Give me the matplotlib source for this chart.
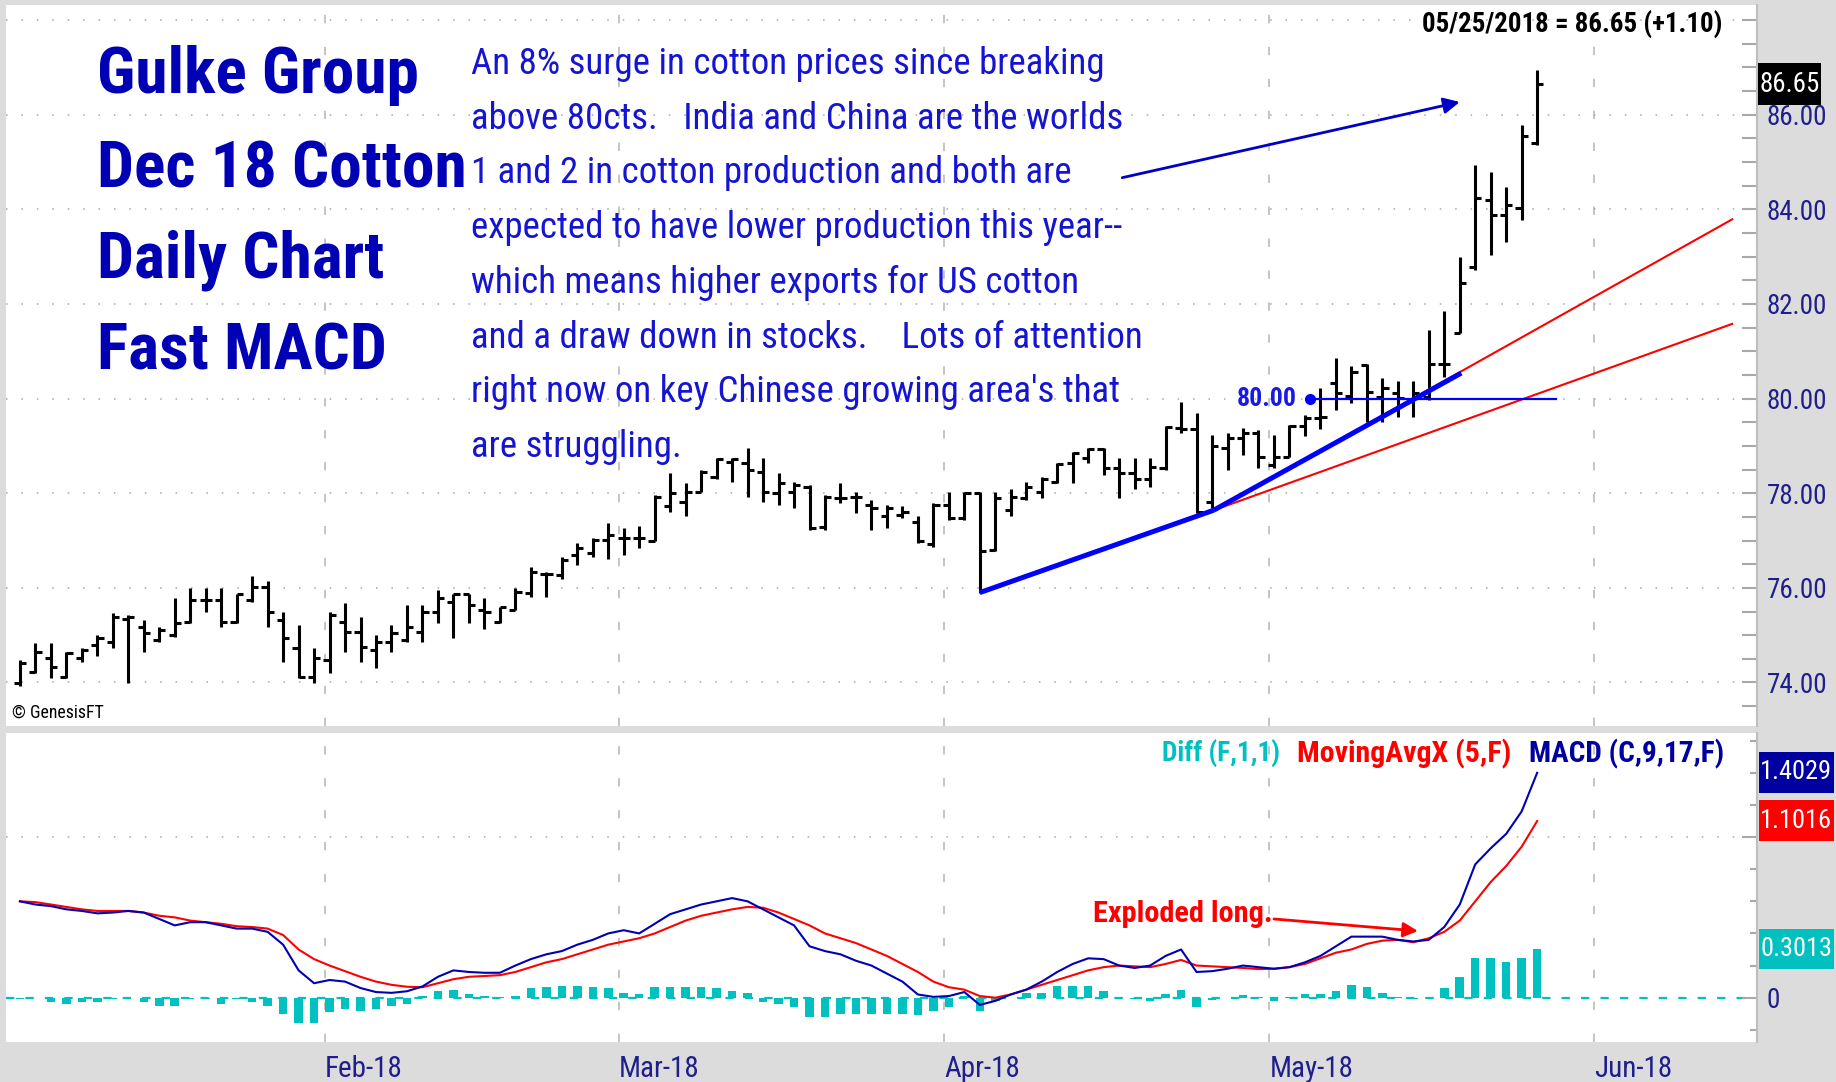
import matplotlib
matplotlib.use("Agg")
import matplotlib.pyplot as plt
from matplotlib import font_manager as fm
from matplotlib.patches import Rectangle
from matplotlib.ticker import MultipleLocator
import numpy as np

W, H = 1836, 1082
plt.rcParams["lines.scale_dashes"] = False

have = {f.name for f in fm.fontManager.ttflist}
FONT = next((f for f in ["Liberation Sans Narrow", "Roboto Condensed", "Liberation Sans"]
             if f in have), "DejaVu Sans")
plt.rcParams["font.family"] = [FONT, "DejaVu Sans"]

# ---- daily OHLC, Dec 18 cotton, Jan 3 .. May 25 2018 (bar index 0..98)
opens = [73.98, 74.23, 74.51, 74.11, 74.51, 74.79, 74.86, 75.35, 75.18, 74.90,
         75.00, 75.28, 75.74, 75.74, 75.28, 75.74, 76.02, 75.32, 74.72, 74.12,
         74.47, 75.28, 75.07, 74.69, 74.86, 74.90, 75.07, 75.50, 75.71, 75.88,
         75.53, 75.28, 75.53, 75.89, 76.29, 76.27, 76.69, 76.73, 77.01, 77.05,
         77.05, 77.00, 77.72, 77.82, 78.03, 78.35, 78.67, 78.63, 78.45, 78.01,
         78.03, 78.14, 77.29, 77.89, 77.93, 77.75, 77.51, 77.54, 77.40, 76.93,
         77.75, 77.47, 78.01, 76.79, 77.65, 77.89, 78.03, 78.24, 78.63, 78.74,
         78.93, 78.53, 78.42, 78.31, 78.53, 79.38, 79.35, 77.82, 78.95, 79.16,
         79.27, 78.60, 78.77, 79.42, 79.60, 80.34, 80.06, 80.71, 80.04, 80.11,
         79.94, 80.04, 80.73, 81.38, 82.79, 84.20, 83.88, 84.02, 85.40]
highs = [74.48, 74.83, 74.83, 74.65, 74.72, 75.00, 75.46, 75.42, 75.32, 75.18,
         75.78, 75.99, 75.99, 75.99, 75.88, 76.25, 76.15, 75.50, 75.21, 74.72,
         75.50, 75.67, 75.39, 75.00, 75.21, 75.64, 75.64, 75.96, 75.88, 75.88,
         75.78, 75.60, 75.99, 76.45, 76.34, 76.66, 76.94, 77.05, 77.37, 77.26,
         77.30, 77.96, 78.42, 78.21, 78.49, 78.74, 78.74, 78.95, 78.74, 78.42,
         78.24, 78.17, 77.96, 78.21, 78.03, 77.86, 77.75, 77.72, 77.51, 77.79,
         78.03, 78.03, 78.03, 78.03, 78.10, 78.24, 78.35, 78.63, 78.88, 78.95,
         78.95, 78.74, 78.74, 78.74, 79.42, 79.92, 79.69, 79.23, 79.27, 79.37,
         79.34, 79.23, 79.44, 79.65, 80.22, 80.85, 80.69, 80.73, 80.43, 80.37,
         80.37, 81.44, 81.86, 83.00, 84.94, 84.80, 84.48, 85.79, 86.94]
lows = [73.93, 74.19, 74.09, 74.09, 74.44, 74.55, 74.72, 73.98, 74.65, 74.86,
        74.97, 75.25, 75.50, 75.18, 75.25, 75.71, 75.18, 74.44, 74.09, 73.98,
        74.19, 74.65, 74.44, 74.30, 74.65, 74.86, 74.86, 75.25, 74.93, 75.25,
        75.14, 75.25, 75.53, 75.81, 75.81, 76.18, 76.48, 76.66, 76.61, 76.69,
        76.84, 76.98, 77.61, 77.51, 78.03, 78.31, 78.24, 77.93, 77.82, 77.75,
        77.68, 77.22, 77.22, 77.79, 77.58, 77.22, 77.26, 77.47, 76.94, 76.87,
        77.44, 77.44, 75.89, 76.77, 77.51, 77.86, 77.89, 78.21, 78.21, 78.63,
        78.39, 77.89, 78.10, 78.14, 78.49, 79.27, 77.58, 77.68, 78.49, 78.81,
        78.53, 78.53, 78.77, 79.20, 79.35, 79.76, 79.90, 79.50, 79.50, 79.62,
        79.62, 79.97, 80.46, 81.38, 82.72, 83.04, 83.30, 83.78, 85.37]
closes = [74.41, 74.65, 74.33, 74.62, 74.69, 74.93, 75.39, 75.39, 75.04, 75.11,
          75.25, 75.74, 75.74, 75.28, 75.87, 76.02, 75.50, 74.93, 74.12, 74.51,
          75.43, 75.07, 74.76, 74.86, 75.04, 75.18, 75.50, 75.78, 75.88, 75.64,
          75.50, 75.60, 75.92, 76.34, 76.29, 76.59, 76.84, 77.01, 77.12, 77.05,
          77.05, 77.93, 78.00, 78.03, 78.45, 78.72, 78.72, 78.49, 78.03, 78.21,
          78.17, 77.26, 77.93, 77.89, 77.91, 77.68, 77.68, 77.61, 76.98, 77.75,
          77.47, 78.01, 76.77, 77.89, 77.93, 78.14, 78.31, 78.62, 78.84, 78.93,
          78.53, 78.42, 78.31, 78.56, 79.39, 79.35, 77.61, 78.99, 79.16, 79.27,
          78.77, 78.77, 79.42, 79.60, 79.62, 80.11, 80.57, 80.15, 80.22, 80.01,
          80.11, 80.73, 80.73, 82.45, 84.23, 83.88, 84.10, 85.55, 86.65]

# ---- Fast MACD panel
macd = [0.60, 0.58, 0.57, 0.55, 0.54, 0.525, 0.53, 0.54, 0.53, 0.49,
        0.45, 0.47, 0.47, 0.45, 0.43, 0.43, 0.41, 0.33, 0.17, 0.09,
        0.11, 0.10, 0.06, 0.035, 0.03, 0.04, 0.07, 0.13, 0.17, 0.16,
        0.155, 0.155, 0.20, 0.24, 0.27, 0.29, 0.33, 0.36, 0.40, 0.42,
        0.40, 0.46, 0.52, 0.55, 0.58, 0.60, 0.62, 0.60, 0.55, 0.50,
        0.45, 0.32, 0.29, 0.27, 0.23, 0.20, 0.15, 0.10, 0.02, 0.005,
        0.01, 0.035, -0.045, -0.02, 0.02, 0.05, 0.10, 0.16, 0.21, 0.245,
        0.24, 0.20, 0.185, 0.20, 0.26, 0.30, 0.16, 0.165, 0.18, 0.20,
        0.19, 0.18, 0.19, 0.22, 0.26, 0.32, 0.38, 0.38, 0.38, 0.36,
        0.35, 0.36, 0.44, 0.58, 0.83, 0.93, 1.02, 1.16, 1.40]
signal = [0.60, 0.595, 0.58, 0.565, 0.55, 0.54, 0.54, 0.54, 0.53, 0.51,
          0.50, 0.48, 0.47, 0.46, 0.445, 0.44, 0.43, 0.39, 0.30, 0.24,
          0.20, 0.165, 0.13, 0.10, 0.08, 0.068, 0.065, 0.09, 0.115, 0.13,
          0.135, 0.14, 0.16, 0.19, 0.22, 0.24, 0.27, 0.30, 0.33, 0.35,
          0.37, 0.40, 0.44, 0.48, 0.51, 0.53, 0.55, 0.565, 0.56, 0.53,
          0.49, 0.45, 0.40, 0.37, 0.34, 0.30, 0.26, 0.21, 0.16, 0.10,
          0.065, 0.05, 0.01, 0.0, 0.02, 0.05, 0.08, 0.11, 0.14, 0.17,
          0.19, 0.20, 0.195, 0.19, 0.21, 0.235, 0.20, 0.195, 0.19, 0.185,
          0.178, 0.18, 0.19, 0.21, 0.245, 0.28, 0.30, 0.335, 0.355, 0.36,
          0.345, 0.37, 0.41, 0.48, 0.60, 0.72, 0.82, 0.94, 1.10]
diff = [-0.01, -0.005, -0.03, -0.04, -0.03, -0.03, -0.01, 0.0, -0.03, -0.05,
        -0.05, -0.01, -0.01, -0.04, -0.01, -0.03, -0.05, -0.10, -0.16, -0.16,
        -0.09, -0.07, -0.08, -0.07, -0.05, -0.04, 0.01, 0.04, 0.05, 0.025,
        0.01, 0.005, 0.01, 0.06, 0.065, 0.07, 0.07, 0.065, 0.06, 0.03,
        0.02, 0.065, 0.065, 0.065, 0.065, 0.06, 0.04, 0.03, -0.03, -0.04,
        -0.06, -0.12, -0.12, -0.10, -0.10, -0.10, -0.10, -0.10, -0.11, -0.08,
        -0.06, 0.01, -0.08, -0.02, 0.0, 0.03, 0.03, 0.07, 0.075, 0.07,
        0.04, 0.005, -0.01, -0.02, 0.02, 0.045, -0.06, -0.015, 0.0, 0.015,
        0.005, -0.02, 0.005, 0.02, 0.02, 0.04, 0.08, 0.065, 0.03, 0.005,
        -0.01, 0.005, 0.06, 0.13, 0.25, 0.25, 0.22, 0.25, 0.30]

month_labels = ["Feb-18", "Mar-18", "Apr-18", "May-18", "Jun-18"]
month_first_bar = [20, 39, 60, 81, 102]
price_ticks = [74, 76, 78, 80, 82, 84, 86, 88]
price_labels = ["74.00", "76.00", "78.00", "80.00", "82.00", "84.00", "86.00", ""]

# drawn studies (bar index, price)
trend1_blue = ([62, 77.1], [75.90, 77.64])
trend1_red = ([77.1, 110.6], [77.64, 81.58])
trend2_blue = ([77.1, 93.1], [77.64, 80.54])
trend2_red = ([77.1, 110.6], [77.64, 83.79])
level_80 = ([83.3, 99.2], [80.0, 80.0])
surge_arrow = ((71.2, 84.67), (93.0, 86.27))
cross_arrow = ((81.0, 0.49), (90.3, 0.415))

last_close, last_change = 86.65, 1.10
last_macd, last_signal, last_diff = 1.4029, 1.1016, 0.3013

title_lines = ["Gulke Group", "Dec 18 Cotton", "Daily Chart", "Fast MACD"]
note_lines = ["An 8% surge in cotton prices since breaking",
              "above 80cts.   India and China are the worlds",
              "1 and 2 in cotton production and both are",
              "expected to have lower production this year--",
              "which means higher exports for US cotton",
              "and a draw down in stocks.    Lots of attention",
              "right now on key Chinese growing area's that",
              "are struggling."]

GREY = "#DCDCDC"
NAVY = "#1E1E8C"
CYAN = "#00C0C0"
BLUE_MACD = "#0000B4"

fig = plt.figure(figsize=(W / 100, H / 100), dpi=100, facecolor=GREY)
renderer = fig.canvas.get_renderer()


def box(x0, y0, x1, y1):
    return [x0 / W, 1 - y1 / H, (x1 - x0) / W, (y1 - y0) / H]


def fitsize(s, width, size=20, **kw):
    t = fig.text(0, 0, s, fontsize=size, **kw)
    w = t.get_window_extent(renderer).width
    t.remove()
    return size * width / w


def put(x, y, s, size, **kw):
    return fig.text(x / W, 1 - y / H, s, fontsize=size, va="baseline", **kw)


ax = fig.add_axes(box(6, 5, 1757, 726), facecolor="white")
ax2 = fig.add_axes(box(6, 733, 1757, 1042), facecolor="white", sharex=ax)

ax.set_xlim(-0.9, 112.2)
ax.set_ylim(73.08, 88.32)
ax2.set_ylim(-0.276, 1.648)

tick_size = fitsize("84.00", 61)
for a in (ax, ax2):
    for side in ("top", "left", "bottom"):
        a.spines[side].set_visible(False)
    a.spines["right"].set_color("#BEBEBE")
    a.spines["right"].set_linewidth(1.5)
    a.yaxis.tick_right()
    a.tick_params(axis="x", bottom=False, labelbottom=False)
    a.tick_params(axis="y", which="both", direction="in", color="#A8A8A8",
                  width=1.5, pad=7, labelsize=tick_size, labelcolor=NAVY)
    for m in month_first_bar:
        a.axvline(m - 0.3, color="#B4B4B4", lw=1.1, dashes=(6, 17), zorder=0)

ax.set_yticks(price_ticks, price_labels)
ax.yaxis.set_minor_locator(MultipleLocator(0.5))
ax.tick_params(axis="y", which="both", length=10.8)
for p in price_ticks:
    ax.axhline(p, color="#A8A8A8", lw=1.1, dashes=(1.1, 10.0), zorder=0)

ax2.set_yticks([0, 1.0], ["0", ""])
ax2.yaxis.set_minor_locator(MultipleLocator(0.2))
ax2.tick_params(axis="y", which="major", length=10.8)
ax2.tick_params(axis="y", which="minor", length=5)
ax2.axhline(1.0, color="#A8A8A8", lw=1.1, dashes=(1.1, 10.0), zorder=0)

# ---- price bars
k = np.arange(len(closes))
ax.vlines(k, lows, highs, color="black", lw=2.2, zorder=2)
ax.hlines(opens, k - 0.4, k, color="black", lw=2.2, zorder=2)
ax.hlines(closes, k, k + 0.4, color="black", lw=2.2, zorder=2)

ax.plot(*trend1_red, color="#FF0000", lw=1.5, zorder=3)
ax.plot(*trend2_red, color="#FF0000", lw=1.5, zorder=3)
ax.plot(*trend1_blue, color="#0000FF", lw=3.6, zorder=4, solid_capstyle="butt")
ax.plot(*trend2_blue, color="#0000FF", lw=3.6, zorder=4, solid_capstyle="butt")
ax.plot(*level_80, color="#0000FF", lw=1.6, zorder=4)
ax.plot(level_80[0][0], level_80[1][0], "o", ms=7, color="#0000FF", zorder=4)
ax.text(level_80[0][0] - 0.8, 80.0, "80.00", ha="right", va="center",
        color="#1A1AE6", weight="bold", fontsize=fitsize("80.00", 60, weight="bold"), zorder=5)
ax.annotate("", xy=surge_arrow[1], xytext=surge_arrow[0],
            arrowprops=dict(arrowstyle="-|>", color="#0000C8", lw=2.0, mutation_scale=24,
                            shrinkA=0, shrinkB=0), zorder=5)

# ---- MACD
ax2.axhline(0, color=CYAN, lw=1.6, dashes=(6, 8), zorder=1)
ax2.bar(k, diff, width=0.55, color=CYAN, zorder=2)
ax2.plot(k, signal, color="#FF0000", lw=1.5, zorder=3)
ax2.plot(k, macd, color=BLUE_MACD, lw=1.5, zorder=4)
ax2.annotate("", xy=cross_arrow[1], xytext=cross_arrow[0],
             arrowprops=dict(arrowstyle="-|>", color="#FF0000", lw=2.0, mutation_scale=22,
                             shrinkA=0, shrinkB=0), zorder=5)

# ---- title block and commentary
tsize = fitsize("Dec 18 Cotton", 369, weight="bold")
for line, base in zip(title_lines, [93, 187, 278, 370]):
    put(97, base, line, tsize, weight="bold", color="#0000B4")

nsize = fitsize(note_lines[0], 632)
for i, line in enumerate(note_lines):
    put(471, 74 + 54.7 * i, line, nsize, color="#1414D2")

hdr = f"05/25/2018 = {last_close:.2f} (+{last_change:.2f})"
put(1422, 33, hdr, fitsize(hdr, 301, weight="bold"), weight="bold", color="black")
put(12, 718, "\u00a9 GenesisFT", fitsize("\u00a9 GenesisFT", 92), color="black")

legend = [("Diff (F,1,1)", 1162, 118, CYAN), ("MovingAvgX (5,F)", 1297, 214, "#FF0000"),
          ("MACD (C,9,17,F)", 1529, 195, "#0000A0")]
for s, x, w, c in legend:
    put(x, 762, s, fitsize(s, w, weight="bold"), weight="bold", color=c)

put(1093, 922, "Exploded long.", fitsize("Exploded long.", 180, weight="bold"),
    weight="bold", color="#FF0000")

# month labels under the lower panel
msize = fitsize("Feb-18", 78)
for m, lab in zip(month_first_bar, month_labels):
    xpix = ax2.transData.transform((m - 0.3, 0))[0]
    put(xpix, 1077, lab, msize, color=NAVY)


# last-value boxes on the right axis
def value_box(axis, val, text, fc, x0, x1, hgt):
    ypix = H - axis.transData.transform((0, val))[1]
    fig.patches.append(Rectangle((x0 / W, 1 - (ypix + hgt / 2) / H), (x1 - x0) / W, hgt / H,
                                 transform=fig.transFigure, fc=fc, ec="none", zorder=10))
    fig.text((x0 + x1) / 2 / W, 1 - ypix / H, text, ha="center", va="center", color="white",
             fontsize=fitsize(text, x1 - x0 - 3), zorder=11)


value_box(ax, last_close, f"{last_close:.2f}", "black", 1758, 1821, 42)
value_box(ax2, last_macd, f"{last_macd:.4f}", "#0000A0", 1759, 1834, 41)
value_box(ax2, last_signal, f"{last_signal:.4f}", "#FF0000", 1759, 1834, 41)
value_box(ax2, last_diff, f"{last_diff:.4f}", CYAN, 1759, 1834, 40)

fig.savefig("out.png", dpi=100, facecolor=GREY)
